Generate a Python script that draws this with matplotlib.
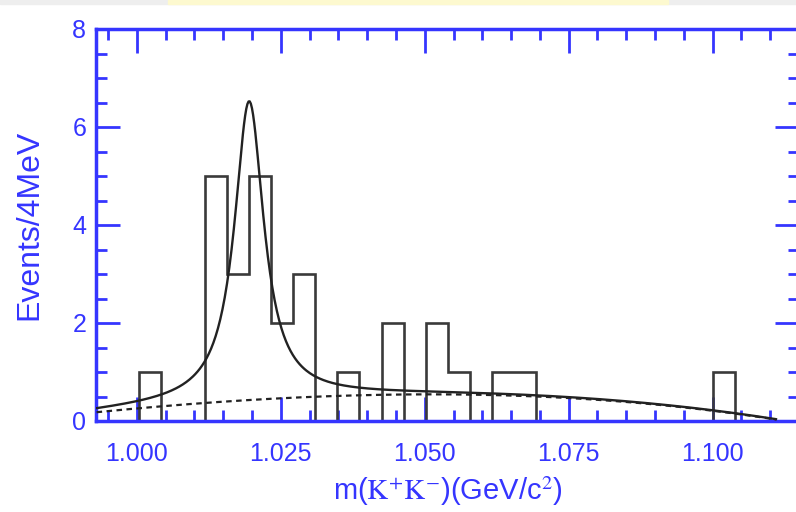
import numpy as np
import matplotlib
matplotlib.use("Agg")
import matplotlib.pyplot as plt
from matplotlib.patches import Rectangle
from matplotlib.ticker import MultipleLocator, FormatStrFormatter

# histogram of m(K+K-), bins
bin_lo = 1.0003
bin_width = 0.003836
counts = [1, 0, 0, 5, 3, 5, 2, 3, 0, 1, 0, 2, 0, 2, 1, 0, 1, 1,
          0, 0, 0, 0, 0, 0, 0, 0, 1]

# background (dashed) levels
bg_mass = [0.993, 1.000, 1.0115, 1.025, 1.040, 1.050, 1.069, 1.086, 1.100, 1.111]
bg_level = [0.17, 0.27, 0.37, 0.45, 0.53, 0.55, 0.50, 0.38, 0.21, 0.03]

# phi peak of the fit
peak_mass = 1.0195
peak_fwhm = 0.0062
peak_amp = 6.1
fit_range = (0.993, 1.111)

blue = "#3535ff"
plt.rcParams["font.family"] = ["Liberation Sans", "DejaVu Sans"]
plt.rcParams["mathtext.fontset"] = "stix"

fig = plt.figure(figsize=(7.96, 5.12), dpi=100)
# slide background bits at the top edge
fig.patches.append(Rectangle((0, 1 - 4 / 512), 1, 4 / 512, transform=fig.transFigure,
                             color="#eeeeee", zorder=0))
fig.patches.append(Rectangle((168 / 796, 1 - 4 / 512), 500 / 796, 4 / 512,
                             transform=fig.transFigure, color="#fdf9cf", zorder=0))

ax = fig.add_axes([96 / 796, 91 / 512, 703 / 796, 392 / 512])

edges = bin_lo + bin_width * np.arange(len(counts) + 1)
ax.stairs(counts, edges, color="#3a3a3a", linewidth=1.9, zorder=2)

m = np.linspace(fit_range[0], fit_range[1], 600)
coef = np.polyfit(bg_mass, bg_level, 3)
bg = np.clip(np.polyval(coef, m), 0, None)
half = peak_fwhm / 2
sig = peak_amp / (1 + ((m - peak_mass) / half) ** 2)

ax.plot(m, bg + sig, color="#222222", linewidth=1.7, zorder=3)
ax.plot(m, bg, color="#222222", linewidth=1.6, linestyle=(0, (2.5, 2)), zorder=3)

ax.set_xlim(0.9929, 1.115)
ax.set_ylim(0, 8)

ax.xaxis.set_major_locator(MultipleLocator(0.025))
ax.xaxis.set_minor_locator(MultipleLocator(0.005))
ax.xaxis.set_major_formatter(FormatStrFormatter("%.3f"))
ax.yaxis.set_major_locator(MultipleLocator(2))
ax.yaxis.set_minor_locator(MultipleLocator(0.5))

ax.tick_params(which="both", direction="in", top=True, right=True, color=blue,
               labelcolor=blue, width=2)
ax.tick_params(which="major", length=17)
ax.tick_params(which="minor", length=8)
ax.tick_params(axis="x", which="major", labelsize=18, pad=15)
ax.tick_params(axis="y", which="major", labelsize=18, pad=7)

for sp in ax.spines.values():
    sp.set_color(blue)
    sp.set_linewidth(2.5)

ax.set_ylabel("Events/4MeV", color=blue, fontsize=23, labelpad=20)
ax.set_xlabel(r"m($\mathrm{K}^{+}\mathrm{K}^{-}$)(GeV/c$^{2}$)", color=blue,
              fontsize=21, labelpad=6)

fig.savefig("out.png", dpi=100)
